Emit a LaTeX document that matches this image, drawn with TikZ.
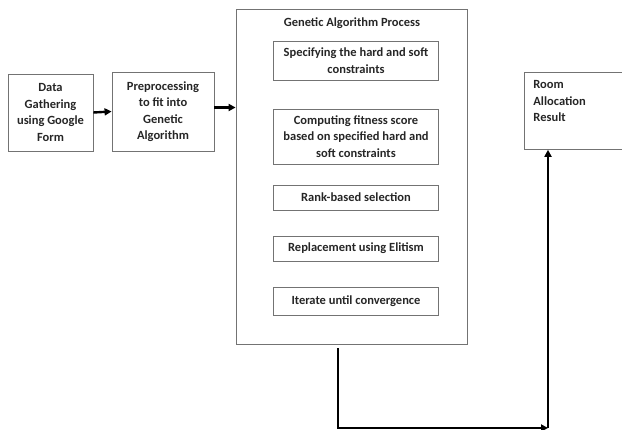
\documentclass[tikz,border=0pt]{standalone}
\usepackage{fontspec}
\setmainfont{Carlito}
\usetikzlibrary{arrows.meta}

\begin{document}
\begin{tikzpicture}[x=1pt, y=-1pt,
		box/.style={draw=black!55, line width=0.8pt, align=center, inner sep=0pt, text=black!85, font=\fontsize{12.5}{16.5}\selectfont\bfseries},
		flow/.style={line width=2.4pt, -{Triangle[length=7pt,width=7pt]}}]
			%%%%% START %%%%%
			\useasboundingbox (0,0) rectangle (622,430);
			
			\node[box, minimum width=85pt, minimum height=77pt] (data) at (50.5,112.5) {Data\\Gathering\\using Google\\Form};
			\node[box, minimum width=102pt, minimum height=79pt] (prep) at (163,111.5) {Preprocessing\\to fit into\\Genetic\\Algorithm};
			
			\node[box, minimum width=231pt, minimum height=335pt] (ga) at (351.5,176.5) {};
			\node[box, draw=none] (gatitle) at (352,23) {Genetic Algorithm Process};
			
			\node[box, minimum width=165pt, minimum height=39pt] (hard) at (356,60.5) {Specifying the hard and soft\\constraints};
			\node[box, minimum width=165pt, minimum height=55pt] (fitness) at (356,136.5) {Computing fitness score\\based on specified hard and\\soft constraints};
			\node[box, minimum width=165pt, minimum height=25pt] (rank) at (356,197.5) {Rank-based selection};
			\node[box, minimum width=165pt, minimum height=25pt] (elite) at (356,248.5) {Replacement using Elitism};
			\node[box, minimum width=165pt, minimum height=28pt] (iterate) at (356,301) {Iterate until convergence};
			
			\node[box, minimum width=106pt, minimum height=77pt, anchor=north west] (room) at (524,72) {};
			\node[box, draw=none, align=left, anchor=north west] (roomtext) at ([xshift=9pt,yshift=-8pt]room.north west) {Room\\Allocation\\Result};
			
			\draw[flow] (data.east) -- (prep.west);
			\draw[flow] ([yshift=4pt]prep.east) -- ([yshift=4pt]prep.east -| ga.west);
			
			\coordinate (corner) at (548,428);
			\draw[flow] ([xshift=-13.5pt,yshift=-4pt]ga.south) |- (corner);
			\draw[flow] (corner) -- (corner |- room.south);
			
			%%%%% END %%%%%
		\end{tikzpicture}
\end{document}
